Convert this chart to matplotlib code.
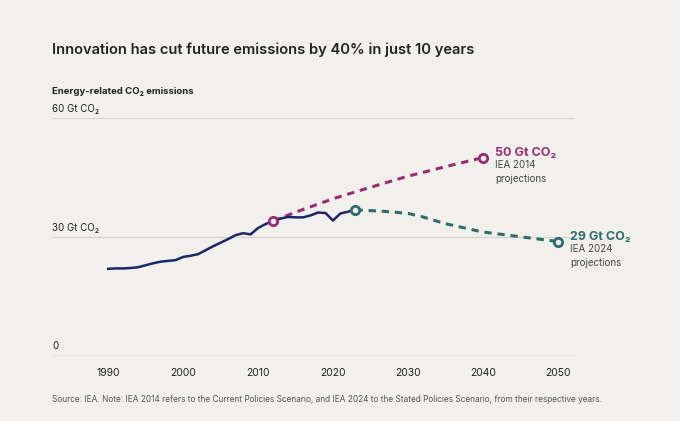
import matplotlib
matplotlib.use("Agg")
import matplotlib.pyplot as plt
import matplotlib.transforms as mtransforms

# --- data ----------------------------------------------------------------
hist_years = list(range(1990, 2024))
hist_vals = [21.9, 22.0, 22.0, 22.1, 22.3, 22.8, 23.3, 23.7, 23.9, 24.1,
             24.9, 25.2, 25.6, 26.6, 27.6, 28.5, 29.4, 30.4, 30.9, 30.6,
             32.2, 33.2, 34.0, 34.6, 35.0, 34.9, 34.9, 35.4, 36.1, 36.0,
             34.1, 35.9, 36.3, 37.0]

iea14_years = [2012, 2015, 2020, 2025, 2030, 2035, 2040]
iea14_vals = [34.0, 36.2, 39.6, 42.5, 45.3, 47.7, 50.0]

iea24_years = [2023, 2025, 2027, 2030, 2032, 2035, 2040, 2045, 2050]
iea24_vals = [36.8, 36.6, 36.4, 35.9, 35.0, 33.3, 31.2, 30.0, 28.8]

y_ticks = [0, 30, 60]
y_tick_labels = ["0", "30 Gt CO₂", "60 Gt CO₂"]
x_ticks = [1990, 2000, 2010, 2020, 2030, 2040, 2050]

BG = "#f1f0ec"
NAVY = "#1b2766"
MAGENTA = "#9b2c6f"
TEAL = "#2d6e6a"
GRID = "#d4d3cf"
TEXT = "#222222"

plt.rcParams["font.family"] = ["Inter", "DejaVu Sans"]

fig = plt.figure(figsize=(6.8, 4.21), dpi=100, facecolor=BG)
ax = fig.add_axes([52 / 680, 1 - 355.5 / 421, (575 - 52) / 680, (355.5 - 118) / 421])
ax.set_facecolor(BG)
ax.set_xlim(1982.5, 2052.3)
ax.set_ylim(0, 60)

for s in ax.spines.values():
    s.set_visible(False)

# gridlines
for v in y_ticks:
    ax.axhline(v, color="#a8a8a4" if v == 0 else GRID, lw=0.9, zorder=1)

ax.set_yticks([])
ax.set_xticks(x_ticks)
ax.set_xticklabels([str(x) for x in x_ticks], fontsize=7.5, color=TEXT)
ax.tick_params(axis="x", length=0, pad=9)

# y labels sit above the gridlines, left aligned
trans = mtransforms.blended_transform_factory(ax.transAxes, ax.transData)
off = mtransforms.offset_copy(trans, fig=fig, y=3, units="points")
for v, lab in zip(y_ticks, y_tick_labels):
    ax.text(0, v, lab, transform=off, ha="left", va="bottom",
            fontsize=7, color=TEXT)

# projections (dashed) first, history on top
ax.plot(iea14_years, iea14_vals, color=MAGENTA, lw=2.2, ls=(0, (2.4, 1.9)),
        zorder=3)
ax.plot(iea24_years, iea24_vals, color=TEAL, lw=2.2, ls=(0, (2.4, 1.9)),
        zorder=3)
ax.plot(hist_years, hist_vals, color=NAVY, lw=1.8, zorder=4,
        solid_joinstyle="round")

# open circle markers at start/end points
mk = dict(marker="o", ms=6, mfc=BG, mew=2.0, zorder=5, ls="none")
ax.plot([iea14_years[0], iea14_years[-1]], [iea14_vals[0], iea14_vals[-1]],
        mec=MAGENTA, **mk)
ax.plot([iea24_years[0], iea24_years[-1]], [iea24_vals[0], iea24_vals[-1]],
        mec=TEAL, **mk)

# end annotations
def end_label(x, y, head, sub, color):
    ax.annotate(head, (x, y), xytext=(9, 3), textcoords="offset points",
                ha="left", va="center", fontsize=9, fontweight="bold",
                color=color, annotation_clip=False)
    ax.annotate(sub, (x, y), xytext=(9, -2), textcoords="offset points",
                ha="left", va="top", fontsize=7, color="#444444",
                linespacing=1.45, annotation_clip=False)

end_label(iea14_years[-1], iea14_vals[-1], "50 Gt CO₂", "IEA 2014\nprojections", MAGENTA)
end_label(iea24_years[-1], iea24_vals[-1], "29 Gt CO₂", "IEA 2024\nprojections", TEAL)

# titles
fig.text(52 / 680, 1 - 50 / 421, "Innovation has cut future emissions by 40% in just 10 years",
         ha="left", va="center", fontsize=10.6, fontweight="semibold", color=TEXT)
fig.text(52 / 680, 1 - 92 / 421, "Energy-related CO₂ emissions",
         ha="left", va="center", fontsize=6.9, fontweight="bold", color=TEXT)
fig.text(52 / 680, 1 - 400 / 421,
         "Source: IEA. Note: IEA 2014 refers to the Current Policies Scenario, and IEA 2024 "
         "to the Stated Policies Scenario, from their respective years.",
         ha="left", va="center", fontsize=5.95, color="#555555")

fig.savefig("out.png", dpi=100, facecolor=BG)
